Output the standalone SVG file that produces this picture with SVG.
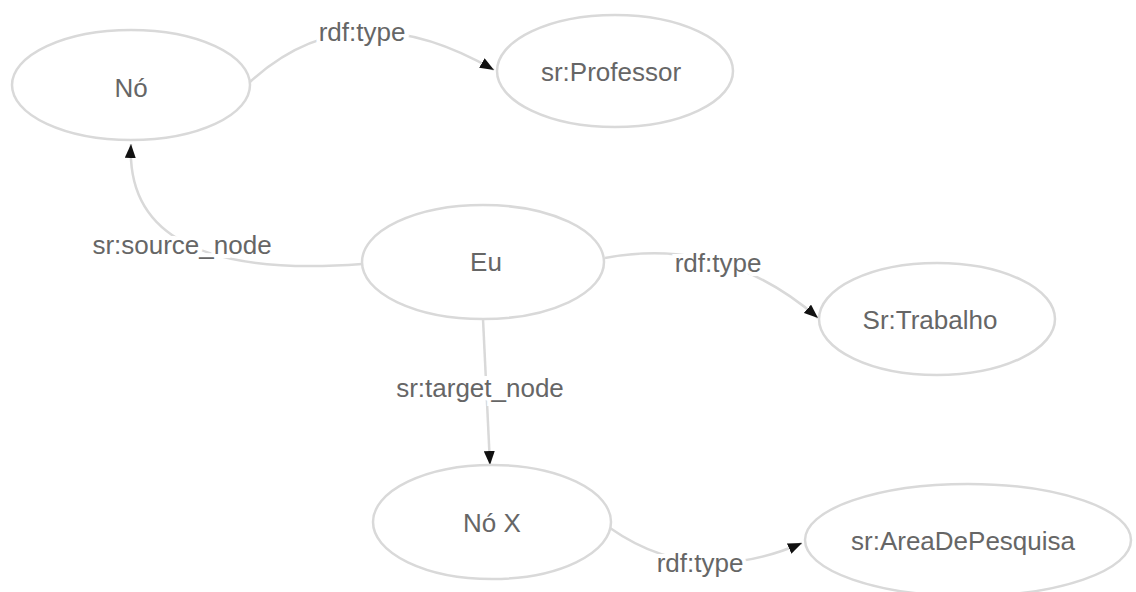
<svg xmlns="http://www.w3.org/2000/svg" width="1136" height="592" viewBox="0 0 1136 592">
<defs>
<marker id="a2" viewBox="0 0 14 11" refX="14" refY="5.5" markerWidth="14" markerHeight="11" markerUnits="userSpaceOnUse" orient="auto">
<path d="M0,0 L14,5.5 L0,11 z" fill="#111"/>
</marker>
<style>
.node ellipse{fill:#fff;stroke:#d9d9d9;stroke-width:2.5}
.node text{font-family:"Liberation Sans",Arial,sans-serif;font-size:26px;fill:#666;text-anchor:middle;dominant-baseline:central}
.edge{fill:none;stroke:#d9d9d9;stroke-width:2.5;marker-end:url(#a2)}
.lbl{font-family:"Liberation Sans",Arial,sans-serif;font-size:26px;fill:#666;text-anchor:middle;dominant-baseline:central;stroke:#fff;stroke-width:8;paint-order:stroke}
</style>
</defs>
<rect width="1136" height="592" fill="#fff"/>
<g id="connectors">
<path class="edge" d="M250,82 Q352,-12 494,70"/>
<path class="edge" d="M362,264 Q124,282 131,144"/>
<path class="edge" d="M605,258 Q724,236 818,318"/>
<path class="edge" d="M483,319 L490,465"/>
<path class="edge" d="M610,528 Q697,589 802,543"/>
<text class="lbl" x="362" y="32">rdf:type</text>
<text class="lbl" x="182" y="245">sr:source_node</text>
<text class="lbl" x="718" y="263">rdf:type</text>
<text class="lbl" x="480" y="388">sr:target_node</text>
<text class="lbl" x="700" y="563">rdf:type</text>
</g>
<g id="node-no" class="node"><ellipse cx="131" cy="85" rx="119" ry="55"/><text x="131" y="88">Nó</text></g>
<g id="node-professor" class="node"><ellipse cx="615" cy="71" rx="118" ry="56"/><text x="611" y="72">sr:Professor</text></g>
<g id="node-eu" class="node"><ellipse cx="483" cy="262" rx="121" ry="57"/><text x="486" y="262">Eu</text></g>
<g id="node-trabalho" class="node"><ellipse cx="937" cy="319" rx="118" ry="56"/><text x="930" y="320">Sr:Trabalho</text></g>
<g id="node-nox" class="node"><ellipse cx="492" cy="522" rx="119" ry="57"/><text x="492" y="523">Nó X</text></g>
<g id="node-area" class="node"><ellipse cx="968" cy="540" rx="163" ry="56"/><text x="963" y="541">sr:AreaDePesquisa</text></g>
</svg>
